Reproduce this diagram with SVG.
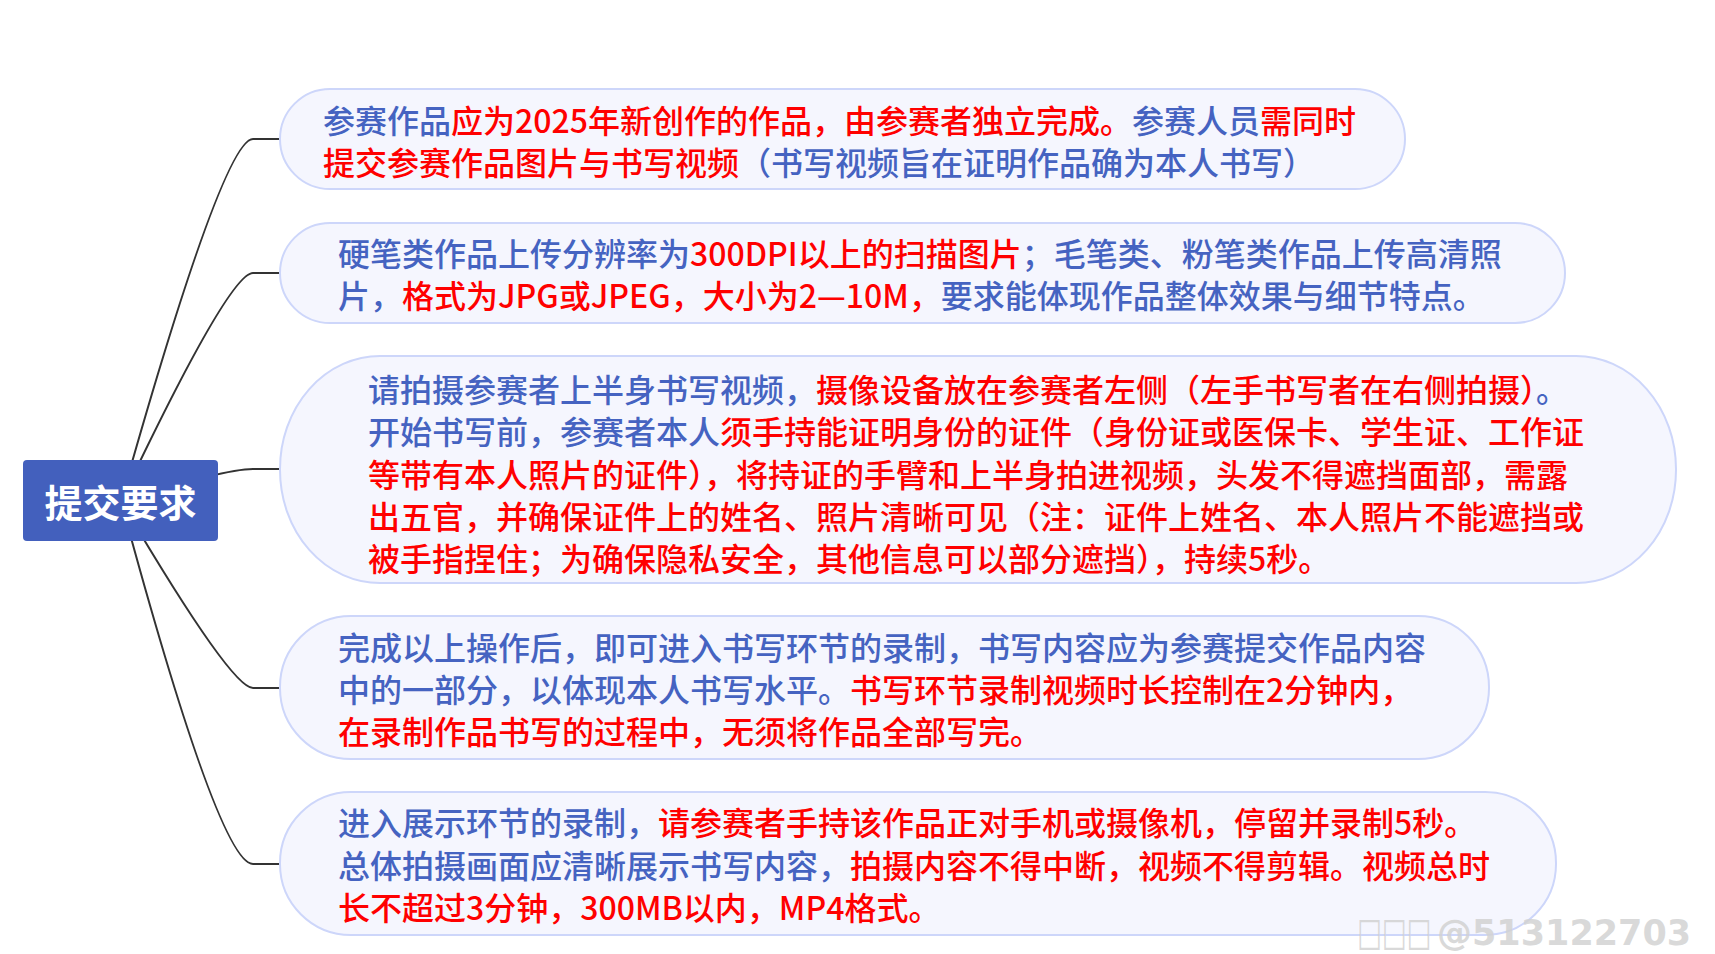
<svg xmlns="http://www.w3.org/2000/svg" width="1715" height="954" viewBox="0 0 1715 954">
<style>
.bg{fill:#ffffff}
.conn{fill:none;stroke:#333333;stroke-width:2}
.box{fill:#f5f6fe;stroke:#cdd6fa;stroke-width:2}
.t{font-family:"Noto Sans CJK SC","Noto Sans",sans-serif;font-size:32px;font-weight:500;fill:#4563c1}
.r{fill:#ff0000}
.b{fill:#4563c1}
.root{fill:#4360bd}
.rt{font-family:"Noto Sans CJK SC","Noto Sans",sans-serif;font-size:38px;font-weight:bold;fill:#ffffff}
.wm{font-family:"DejaVu Sans",sans-serif;font-weight:bold;font-size:35px;fill:#d2d2d2;fill-opacity:0.85}
</style>
<rect class="bg" x="0" y="0" width="1715" height="954"/>
<g id="connectors">
<path class="conn" d="M121 501 Q223 139 253 139 L281 139"/>
<path class="conn" d="M121 501 Q229 273 253 273 L281 273"/>
<path class="conn" d="M121 501 Q225 469 253 469 L281 469"/>
<path class="conn" d="M121 501 Q231 688 253 688 L281 688"/>
<path class="conn" d="M121 501 Q219 864 253 864 L281 864"/>
</g>
<g id="root">
<rect class="root" x="23" y="460" width="195" height="81" rx="4"/>
<text class="rt" x="120.5" y="517" text-anchor="middle">提交要求</text>
</g>
<g id="node1">
<rect class="box" x="280" y="89" width="1125" height="100" rx="50"/>
<text class="t" x="323" y="133"><tspan class="b">参赛作品</tspan><tspan class="r">应为2025年新创作的作品，由参赛者独立完成。</tspan><tspan class="b">参赛人员</tspan><tspan class="r">需同时</tspan></text>
<text class="t" x="323" y="175"><tspan class="r">提交参赛作品图片与书写视频</tspan><tspan class="b">（书写视频旨在证明作品确为本人书写）</tspan></text>
</g>
<g id="node2">
<rect class="box" x="280" y="223" width="1285" height="100" rx="50"/>
<text class="t" x="338" y="266"><tspan class="b">硬笔类作品上传分辨率为</tspan><tspan class="r">300DPI以上的扫描图片</tspan><tspan class="b">；毛笔类、粉笔类作品上传高清照</tspan></text>
<text class="t" x="338" y="308"><tspan class="b">片，</tspan><tspan class="r">格式为JPG或JPEG，大小为2—10M，</tspan><tspan class="b">要求能体现作品整体效果与细节特点。</tspan></text>
</g>
<g id="node3">
<rect class="box" x="280" y="356" width="1396" height="227" rx="100" ry="113"/>
<text class="t" x="368" y="402"><tspan class="b">请拍摄参赛者上半身书写视频，</tspan><tspan class="r">摄像设备放在参赛者左侧（左手书写者在右侧拍摄）</tspan><tspan class="b">。</tspan></text>
<text class="t" x="368" y="444"><tspan class="b">开始书写前，参赛者本人</tspan><tspan class="r">须手持能证明身份的证件（身份证或医保卡、学生证、工作证</tspan></text>
<text class="t r" x="368" y="487">等带有本人照片的证件），将持证的手臂和上半身拍进视频，头发不得遮挡面部，需露</text>
<text class="t r" x="368" y="529">出五官，并确保证件上的姓名、照片清晰可见（注：证件上姓名、本人照片不能遮挡或</text>
<text class="t r" x="368" y="571">被手指捏住；为确保隐私安全，其他信息可以部分遮挡），持续5秒。</text>
</g>
<g id="node4">
<rect class="box" x="280" y="616" width="1209" height="143" rx="71"/>
<text class="t" x="338" y="660"><tspan class="b">完成以上操作后，即可进入书写环节的录制，书写内容应为参赛提交作品内容</tspan></text>
<text class="t" x="338" y="702"><tspan class="b">中的一部分，以体现本人书写水平。</tspan><tspan class="r">书写环节录制视频时长控制在2分钟内，</tspan></text>
<text class="t r" x="338" y="744">在录制作品书写的过程中，无须将作品全部写完。</text>
</g>
<g id="node5">
<rect class="box" x="280" y="792" width="1276" height="143" rx="71"/>
<text class="t" x="338" y="835"><tspan class="b">进入展示环节的录制，</tspan><tspan class="r">请参赛者手持该作品正对手机或摄像机，停留并录制5秒。</tspan></text>
<text class="t" x="338" y="878"><tspan class="b">总体拍摄画面应清晰展示书写内容，</tspan><tspan class="r">拍摄内容不得中断，视频不得剪辑。视频总时</tspan></text>
<text class="t r" x="338" y="920">长不超过3分钟，300MB以内，MP4格式。</text>
</g>
<g id="watermark">
<text class="wm" x="1357" y="945" transform="translate(1357 945) scale(0.75 1.1) translate(-1357 -945)">□□□</text>
<text class="wm" x="1437" y="945">@513122703</text>
</g>
</svg>
